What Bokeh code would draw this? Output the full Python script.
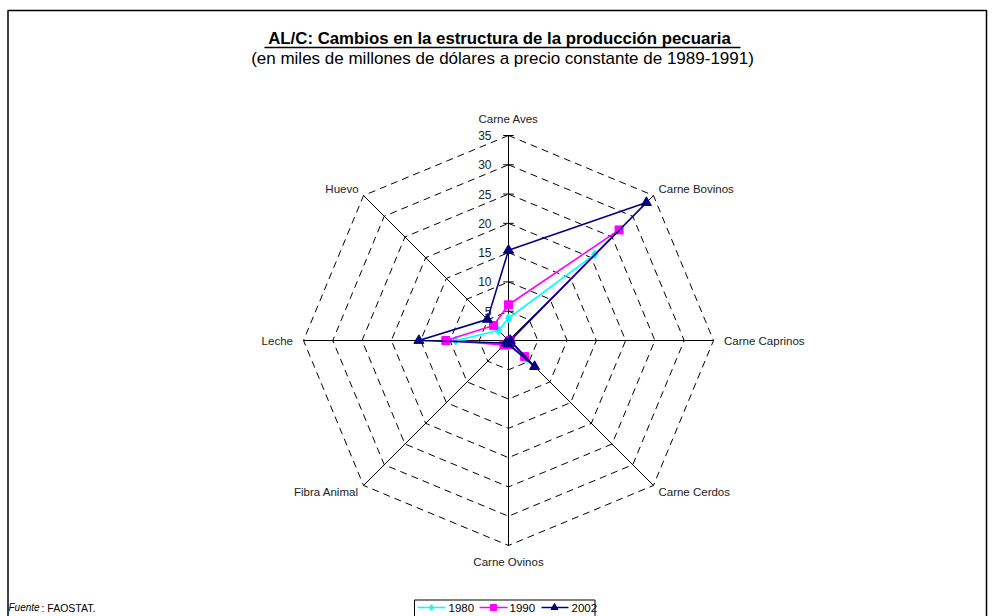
import numpy as np
from bokeh.plotting import figure
from bokeh.models import Range1d
from bokeh.core.properties import value
from bokeh.embed import file_html
from bokeh.resources import INLINE

# ---- data ----
categories = ["Carne Aves", "Carne Bovinos", "Carne Caprinos", "Carne Cerdos",
              "Carne Ovinos", "Fibra Animal", "Leche", "Huevo"]
v1980 = [3.8, 20.8, 0.3, 4.3, 0.9, 0.9, 9.0, 2.4]
v1990 = [6.1, 26.7, 0.3, 3.9, 0.7, 1.1, 10.7, 3.6]
v2002 = [15.4, 33.3, 0.3, 6.3, 0.6, 0.6, 15.3, 5.1]
years = ["1980", "1990", "2002"]
ticks = [5, 10, 15, 20, 25, 30, 35]
rmax = 35

# ---- geometry (screen pixels -> data units) ----
CX, CY, K = 508.0, 340.0, 205.0 / 35.0
def X(px): return (px - CX) / K
def Y(py): return (CY - py) / K

FONT = "Liberation Sans"
p = figure(width=995, height=616, output_backend="svg", toolbar_location=None,
           x_range=Range1d(X(0), X(995)), y_range=Range1d(Y(616), Y(0)),
           min_border=0, outline_line_color=None, background_fill_color="white")
p.axis.visible = False
p.grid.visible = False

n = len(categories)
ang = np.deg2rad(90 - 45 * np.arange(n))
cs, sn = np.cos(ang), np.sin(ang)

# dashed octagon gridlines
for t in ticks:
    xs = list(t * cs) + [t * cs[0]]
    ys = list(t * sn) + [t * sn[0]]
    p.line(xs, ys, line_color="black", line_width=1, line_dash="7 5")

# spokes
p.multi_line([[0, rmax * c] for c in cs], [[0, rmax * s] for s in sn],
             line_color="black", line_width=1)
# tick marks on value axis
p.multi_line([[-0.9, 0.9] for t in ticks], [[t, t] for t in ticks],
             line_color="black", line_width=1)
# tick labels
p.text(x=[X(491)] * len(ticks), y=ticks, text=[str(t) for t in ticks],
       text_font=value(FONT), text_font_size="12px", text_align="right",
       text_baseline="middle", text_color="#222")

# category labels
lx, ly, al = [], [], []
for i in range(n):
    c, s = cs[i], sn[i]
    if abs(c) < 1e-6:
        lx.append(0); ly.append((rmax + 2.9) * np.sign(s)); al.append("center")
    elif abs(s) < 1e-6:
        lx.append((rmax + 1.8) * np.sign(c)); ly.append(0)
        al.append("left" if c > 0 else "right")
    else:
        lx.append((rmax + 1.2) * c); ly.append((rmax + 1.2) * s + 0.2 * np.sign(s))
        al.append("left" if c > 0 else "right")
p.text(x=lx, y=ly, text=categories, text_align=al, text_baseline="middle",
       text_font=value(FONT), text_font_size="11.5px", text_color="#222")

# series
styles = [("#00FFFF", "diamond", 9), ("#FF00FF", "square", 8), ("#000080", "triangle", 10)]
for vals, (col, mk, sz) in zip([v1980, v1990, v2002], styles):
    r = np.array(vals)
    xs = list(r * cs) + [r[0] * cs[0]]
    ys = list(r * sn) + [r[0] * sn[0]]
    p.line(xs, ys, line_color=col, line_width=1.6)
    p.scatter(r * cs, r * sn, marker=mk, size=sz, fill_color=col, line_color=col)

# title
p.text(x=[X(499)], y=[Y(38)], text=["AL/C: Cambios en la estructura de la producción pecuaria"],
       text_font=value(FONT), text_font_size="16.8px", text_font_style="bold",
       text_align="center", text_baseline="middle", text_color="black")
p.line([X(264), X(740)], [Y(47), Y(47)], line_color="black", line_width=1.3)
p.text(x=[X(502)], y=[Y(58)], text=["(en miles de millones de dólares a precio constante de 1989-1991)"],
       text_font=value(FONT), text_font_size="17px",
       text_align="center", text_baseline="middle", text_color="black")

# frame
p.line([X(7.5), X(7.5), X(986), X(986)], [Y(616), Y(10), Y(10), Y(616)],
       line_color="black", line_width=1.5)

# legend
p.line([X(414), X(414), X(594.5), X(594.5)], [Y(616), Y(599.5), Y(599.5), Y(616)],
       line_color="black", line_width=1)
leg_line = [(417, 445, 431, 448), (479, 507, 493, 509), (541, 568, 554, 571)]
leg_sizes = [6, 6, 7]
ly0 = Y(607)
for (x0, x1, xm, xt), (col, mk, _), sz, yr in zip(leg_line, styles, leg_sizes, years):
    p.line([X(x0), X(x1)], [ly0, ly0], line_color=col, line_width=1.5)
    p.scatter([X(xm)], [ly0], marker=mk, size=sz, fill_color=col, line_color=col)
    p.text(x=[X(xt)], y=[ly0], text=[yr], text_font=value(FONT), text_font_size="11.5px",
           text_baseline="middle", text_color="black")

# source
p.text(x=[X(8)], y=[Y(607)], text=["Fuente"], text_font=value(FONT), text_font_size="10px",
       text_font_style="italic", text_baseline="middle", text_color="black")
p.text(x=[X(41)], y=[Y(607)], text=[": FAOSTAT."], text_font=value(FONT), text_font_size="10.5px",
       text_baseline="middle", text_color="black")

open("out.html", "w").write(file_html(p, INLINE))
